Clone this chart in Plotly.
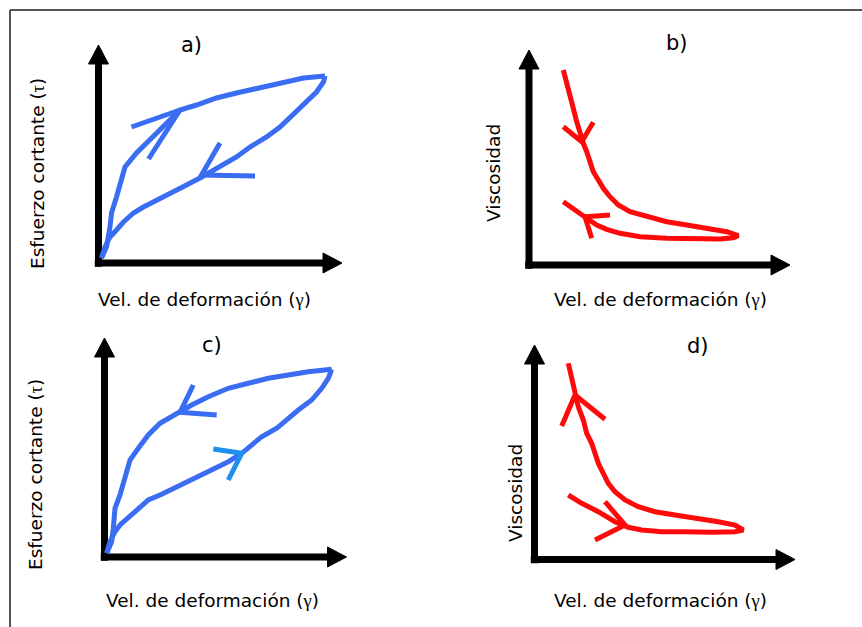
import plotly.graph_objects as go

W, H = 862, 627

# ---------------- data (units: relative to each panel's axis origin, y up) ----------------
# Panel a) shear stress vs shear rate (thixotropic loop)
a_up_x = [3, 8, 11.5, 13, 18, 23, 26.5, 38, 51.5, 66.5, 81.5, 98, 118, 138, 165, 185, 205, 226.5]
a_up_y = [5, 16, 36, 50, 66, 83, 96, 110, 123, 138, 153, 158, 165, 170, 176, 181, 185, 187]
a_down_x = [226.5, 225, 218, 208, 200, 191.5, 181.5, 168, 151.5, 138, 125, 111.5, 101.5, 88, 71.5, 58, 45, 35, 25, 18, 11.5, 6.5, 3]
a_down_y = [187, 181, 171, 161, 153, 145, 136, 126, 116, 106, 98, 90, 85, 78, 70, 63, 56, 50, 41, 33, 26, 16, 5]
a_arrow1_x = [33, 81.5, 50]
a_arrow1_y = [136, 153, 104]
a_arrow2_x = [121.5, 103, 156.5]
a_arrow2_y = [120, 88, 87]

# Panel b) viscosity vs shear rate
b_curve_x = [34.3, 37.7, 41, 44.3, 47.7, 51, 54.3, 57.7, 61, 64.3, 69.3, 74.3, 81, 89.3, 101, 117.7, 137.7,
             157.7, 177.7, 197.7, 209.3, 204.3, 191, 164.3, 137.7, 111, 91, 77.7, 67.7, 57.7, 44.3, 34.3]
b_curve_y = [195, 183.3, 170, 156.7, 143.3, 131.7, 121.7, 113.3, 103.3, 93.3, 85, 76.7, 68.3, 60, 53.3, 48.3, 43.3,
             40, 36.7, 33.3, 29.3, 27.3, 26, 26, 26.7, 28.3, 31.7, 35.7, 40, 46.7, 56, 63.3]
b_arrow1_x = [34.3, 52.7, 64.3]
b_arrow1_y = [138.3, 123.3, 142.7]
b_arrow2_x = [81, 56, 62.7]
b_arrow2_y = [50, 48.3, 26.7]

# Panel c) shear stress vs shear rate (reverse loop)
c_up_x = [2.2, 7.2, 8.8, 10.5, 15.5, 20.5, 25.5, 33.8, 43.8, 55.5, 72.2, 87.2, 103.8, 123.8, 143.8, 163.8, 183.8, 203.8, 227.2]
c_up_y = [3.7, 15.3, 28.7, 48.7, 62, 82, 97, 108.7, 122, 133.7, 143.7, 152, 160.3, 168.7, 173.7, 178.7, 182, 185.3, 187.7]
c_down_x = [227.2, 223.8, 217.2, 207.2, 193.8, 183.8, 172.2, 157.2, 147.2, 137.2, 123.8, 110.5, 97.2, 80.5, 70.5,
            57.2, 43.8, 33.8, 23.8, 15.5, 10.5, 5.5, 2.2]
c_down_y = [187.7, 178.7, 168.7, 157, 147, 138.7, 128.7, 120.3, 112, 103.7, 95.3, 88.7, 82, 73.7, 68.7,
            62.7, 57, 48.7, 40.3, 32, 25.3, 15.3, 3.7]
c_arrow1_x = [88.8, 75.5, 112.2]
c_arrow1_y = [172, 144.7, 142]
c_arrow2_x = [108.8, 137.2, 123.8]
c_arrow2_y = [108, 103.7, 77]

# Panel d) viscosity vs shear rate (reverse)
d_curve_x = [33.8, 37.2, 40.5, 43.8, 48.8, 52.2, 57.2, 60.5, 63.8, 68.8, 73.8, 80.5, 90.5, 103.8, 120.5, 140.5,
             163.8, 183.8, 200.5, 208.8, 200.5, 177.2, 150.5, 127.2, 107.2, 93.8, 80.5, 63.8, 47.2, 33.8]
d_curve_y = [196.2, 182.8, 166.2, 152.8, 139.5, 126.2, 116.2, 106.2, 96.2, 86.2, 76.2, 67.8, 59.5, 52.8, 47.8, 44.5,
             41.2, 37.8, 34.5, 29.5, 27.8, 27.2, 27.8, 27.8, 29.5, 32.2, 37.8, 47.8, 56.2, 64.5]
d_arrow1_x = [27.2, 40.5, 70.5]
d_arrow1_y = [133.5, 164.5, 140.2]
d_arrow2_x = [70.5, 90.5, 60.5]
d_arrow2_y = [57.8, 34.5, 19.5]

# text
titles = ["a)", "b)", "c)", "d)"]
x_label = "Vel. de deformación (<span style='font-family:Liberation Serif'>γ</span>)"
y_labels = ["Esfuerzo cortante (<span style='font-family:Liberation Serif'>τ</span>)", "Viscosidad",
            "Esfuerzo cortante (<span style='font-family:Liberation Serif'>τ</span>)", "Viscosidad"]

# ---------------- layout constants (pixels) ----------------
BLUE = "#3a6df2"
LBLUE = "#1f8ff0"
RED = "#ff0a0a"
panels = [
    dict(ox=98.5, oy=263, ytip=218, xtip=243.5, dom_x=[0, 0.5], dom_y=[0.5, 1]),
    dict(ox=529, oy=265, ytip=215, xtip=261, dom_x=[0.5, 1], dom_y=[0.5, 1]),
    dict(ox=104.5, oy=557, ytip=219, xtip=242, dom_x=[0, 0.5], dom_y=[0, 0.5]),
    dict(ox=534.5, oy=559.5, ytip=214.5, xtip=260.5, dom_x=[0.5, 1], dom_y=[0, 0.5]),
]
title_pos = [(191, 45), (677, 43), (212, 345), (698, 346)]
xlab_pos = [(204, 299), (660, 299), (212, 600), (660, 600)]
ylab_pos = [(37, 174), (493, 173), (35, 475), (515, 493)]

HEAD_L = 19
HEAD_HW = 10
AXW = 7

fig = go.Figure()
layout_axes = {}

curves = [
    [(a_up_x, a_up_y, BLUE), (a_down_x, a_down_y, BLUE), (a_arrow1_x, a_arrow1_y, BLUE), (a_arrow2_x, a_arrow2_y, BLUE)],
    [(b_curve_x, b_curve_y, RED), (b_arrow1_x, b_arrow1_y, RED), (b_arrow2_x, b_arrow2_y, RED)],
    [(c_up_x, c_up_y, BLUE), (c_down_x, c_down_y, BLUE), (c_arrow1_x, c_arrow1_y, BLUE), (c_arrow2_x, c_arrow2_y, LBLUE)],
    [(d_curve_x, d_curve_y, RED), (d_arrow1_x, d_arrow1_y, RED), (d_arrow2_x, d_arrow2_y, RED)],
]

for i, p in enumerate(panels):
    n = "" if i == 0 else str(i + 1)
    xa, ya = "x" + n, "y" + n
    px0, px1 = p["dom_x"][0] * W, p["dom_x"][1] * W
    py_top, py_bot = (1 - p["dom_y"][1]) * H, (1 - p["dom_y"][0]) * H
    layout_axes["xaxis" + n] = dict(domain=p["dom_x"], range=[px0 - p["ox"], px1 - p["ox"]], visible=False,
                                    anchor=ya, fixedrange=True)
    layout_axes["yaxis" + n] = dict(domain=p["dom_y"], range=[p["oy"] - py_bot, p["oy"] - py_top], visible=False,
                                    anchor=xa, fixedrange=True)
    yb = p["ytip"] - HEAD_L
    xb = p["xtip"] - HEAD_L
    fig.add_trace(go.Scatter(x=[0, 0, xb], y=[yb, 0, 0], mode="lines", xaxis=xa, yaxis=ya,
                             line=dict(color="black", width=AXW), hoverinfo="skip", showlegend=False,
                             cliponaxis=False))
    fig.add_trace(go.Scatter(x=[-AXW / 2, -AXW / 2, AXW / 2], y=[AXW / 2, -AXW / 2, -AXW / 2], mode="lines",
                             fill="toself", fillcolor="black", line=dict(color="black", width=0.5),
                             xaxis=xa, yaxis=ya, hoverinfo="skip", showlegend=False, cliponaxis=False))
    fig.add_trace(go.Scatter(x=[-HEAD_HW, HEAD_HW, 0, -HEAD_HW], y=[yb, yb, p["ytip"], yb], mode="lines",
                             fill="toself", fillcolor="black", line=dict(color="black", width=1),
                             xaxis=xa, yaxis=ya, hoverinfo="skip", showlegend=False, cliponaxis=False))
    fig.add_trace(go.Scatter(x=[xb, xb, p["xtip"], xb], y=[-HEAD_HW, HEAD_HW, 0, -HEAD_HW], mode="lines",
                             fill="toself", fillcolor="black", line=dict(color="black", width=1),
                             xaxis=xa, yaxis=ya, hoverinfo="skip", showlegend=False, cliponaxis=False))
    for cx, cy, col in curves[i]:
        fig.add_trace(go.Scatter(x=cx, y=cy, mode="lines", xaxis=xa, yaxis=ya,
                                 line=dict(color=col, width=5), hoverinfo="skip", showlegend=False,
                                 cliponaxis=False))

annotations = []
def pa(px, py):
    return px / W, 1 - py / H

FONT = "DejaVu Sans, Verdana, sans-serif"
for i in range(4):
    x, y = pa(*title_pos[i])
    annotations.append(dict(x=x, y=y, xref="paper", yref="paper", text=titles[i], showarrow=False,
                            font=dict(family=FONT, size=21, color="black"), xanchor="center", yanchor="middle"))
    x, y = pa(*xlab_pos[i])
    annotations.append(dict(x=x, y=y, xref="paper", yref="paper", text=x_label, showarrow=False,
                            font=dict(family=FONT, size=18.5, color="black"), xanchor="center", yanchor="middle"))
    x, y = pa(*ylab_pos[i])
    annotations.append(dict(x=x, y=y, xref="paper", yref="paper", text=y_labels[i], showarrow=False,
                            textangle=-90, font=dict(family=FONT, size=18.5, color="black"),
                            xanchor="center", yanchor="middle"))

shapes = [
    dict(type="line", xref="paper", yref="paper", x0=10 / W, x1=10 / W, y0=0, y1=1 - 10 / H,
         line=dict(color="#555555", width=2)),
    dict(type="line", xref="paper", yref="paper", x0=10 / W, x1=1, y0=1 - 10 / H, y1=1 - 10 / H,
         line=dict(color="#555555", width=2)),
]

fig.update_layout(width=W, height=H, margin=dict(l=0, r=0, t=0, b=0), paper_bgcolor="white",
                  plot_bgcolor="white", showlegend=False, annotations=annotations, shapes=shapes,
                  **layout_axes)

fig.write_html("out.html", config={"displayModeBar": False})
